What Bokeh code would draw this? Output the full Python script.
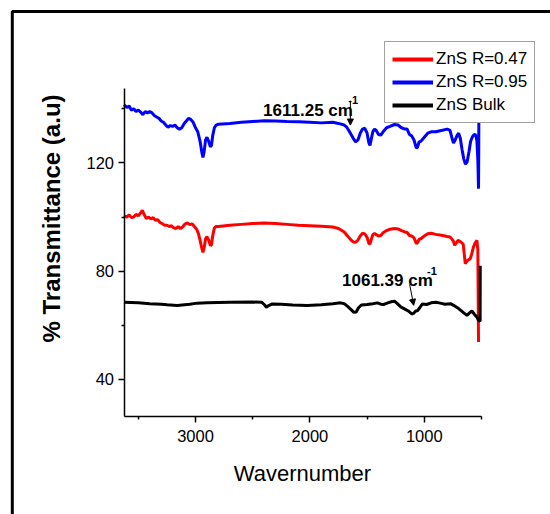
import numpy as np
from bokeh.plotting import figure
from bokeh.models import (Range1d, FixedTicker, Label, Arrow, NormalHead,
                          Legend, LegendItem, BoxAnnotation, LinearAxis)
from bokeh.embed import file_html
from bokeh.resources import INLINE

# ---------------- data ----------------
blue_x = [3625, 3600, 3580, 3560, 3540, 3520, 3500, 3480, 3460, 3440, 3420, 3400, 3380, 3360,
          3340, 3320, 3300, 3280, 3260, 3240, 3220, 3200, 3180, 3160, 3140, 3120, 3100, 3080,
          3060, 3040, 3020, 3000, 2980, 2960, 2945, 2935, 2925, 2912, 2900, 2885, 2870, 2860,
          2850, 2835, 2820, 2800, 2700, 2600, 2500, 2400, 2300, 2200, 2100, 2000, 1900, 1800,
          1750, 1700, 1680, 1660, 1640, 1620, 1600, 1580, 1560, 1540, 1520, 1500, 1485, 1475,
          1465, 1450, 1435, 1420, 1400, 1380, 1360, 1330, 1300, 1260, 1230, 1200, 1170, 1150,
          1130, 1110, 1090, 1070, 1060, 1045, 1030, 1000, 970, 940, 900, 850, 800, 775, 760,
          745, 730, 715, 700, 685, 670, 655, 640, 625, 610, 595, 580, 565, 550, 540, 532,
          526, 524, 522]
blue_y = [141.5, 140.5, 141.0, 139.5, 140.0, 139.0, 139.5, 138.8, 137.8, 139.0, 138.5, 139.0, 138.5, 137.5,
          137.0, 136.5, 135.5, 135.0, 134.0, 133.2, 133.8, 133.5, 134.0, 133.0, 132.5, 133.0, 134.5, 135.5,
          136.5, 136.0, 135.0, 133.0, 131.5, 128.0, 124.0, 122.0, 124.0, 128.5, 129.5, 128.0, 126.0, 126.5,
          130.0, 133.0, 134.0, 134.3, 134.6, 135.0, 135.3, 135.6, 135.5, 135.3, 135.2, 135.0, 134.8, 135.0,
          134.6, 134.0, 133.3, 132.0, 130.5, 129.0, 127.8, 128.5, 131.0, 132.5, 132.8, 131.0, 127.5, 126.5,
          128.5, 131.5, 132.5, 132.0, 130.5, 130.3, 131.5, 133.0, 133.5, 134.2, 134.0, 133.0, 132.5, 132.5,
          130.5, 130.0, 128.5, 125.5, 125.8, 127.8, 128.0, 129.5, 131.0, 131.5, 131.5, 132.0, 132.5, 132.0, 129.5,
          127.3, 128.5, 130.0, 131.0, 129.0, 125.0, 121.5, 119.5, 120.5, 124.0, 128.0, 129.6, 130.5, 130.3, 128.0, 121.0,
          110.5, 125.0, 150.0]

red_x = [3625, 3600, 3580, 3560, 3540, 3520, 3500, 3480, 3465, 3450, 3430, 3410, 3390, 3370,
         3350, 3330, 3310, 3290, 3270, 3250, 3230, 3210, 3190, 3170, 3150, 3130, 3110, 3090,
         3070, 3050, 3030, 3010, 2990, 2975, 2960, 2945, 2935, 2925, 2912, 2900, 2885, 2870,
         2860, 2850, 2835, 2820, 2800, 2700, 2600, 2500, 2400, 2300, 2200, 2100, 2000, 1900,
         1800, 1750, 1700, 1680, 1660, 1640, 1620, 1600, 1580, 1560, 1540, 1520, 1500, 1485,
         1475, 1465, 1450, 1435, 1420, 1400, 1380, 1360, 1330, 1300, 1260, 1230, 1200, 1170,
         1150, 1130, 1110, 1090, 1070, 1060, 1045, 1030, 1000, 970, 940, 900, 850, 800, 775,
         760, 745, 735, 720, 705, 680, 660, 650, 642, 630, 615, 598, 585, 570, 555, 540, 532,
         526]
red_y = [100.5, 100.0, 100.8, 99.8, 100.0, 101.0, 100.5, 101.5, 102.5, 101.0, 99.5, 100.0, 99.3, 99.8,
         98.8, 99.0, 98.0, 97.5, 97.0, 97.0, 96.5, 96.8, 96.0, 95.8, 96.5, 95.7, 96.5, 97.5,
         97.8, 97.2, 97.5, 96.5, 95.5, 94.0, 91.5, 88.5, 87.0, 88.5, 92.0, 92.8, 91.5, 89.5,
         89.8, 93.0, 96.0, 96.5, 96.5, 97.0, 97.3, 97.6, 97.8, 97.6, 97.3, 97.0, 96.8, 96.6,
         96.3, 95.8, 94.5, 93.5, 92.5, 91.5, 90.8, 90.7, 91.5, 93.0, 94.0, 93.8, 92.5, 90.3,
         90.0, 91.5, 93.5, 94.0, 93.5, 93.0, 93.2, 94.2, 95.0, 95.5, 95.8, 95.6, 95.0, 94.5,
         94.3, 93.2, 93.0, 92.3, 90.3, 90.5, 91.8, 92.0, 93.0, 93.8, 94.0, 93.6, 93.3, 92.8, 92.6,
         92.0, 91.0, 89.6, 90.5, 91.4, 90.8, 90.0, 86.0, 82.8, 83.5, 84.2, 84.6, 86.5, 89.0, 90.5, 91.4, 88.0,
         53.8]

black_x = [3625, 3500, 3400, 3300, 3248, 3160, 3050, 2985, 2900, 2700, 2500, 2420, 2395, 2380,
           2360, 2330, 2250, 2150, 2023, 1900, 1800, 1732, 1700, 1670, 1640, 1615, 1595, 1575,
           1550, 1500, 1450, 1411, 1380, 1352, 1320, 1280, 1260, 1240, 1206, 1170, 1140, 1110,
           1095, 1075, 1060, 1040, 1017, 980, 940, 900, 860, 820, 771, 744, 700, 660, 627, 605,
           584, 560, 540, 526, 512, 511]
black_y = [68.5, 68.3, 68.0, 67.8, 67.6, 67.3, 67.8, 68.2, 68.3, 68.5, 68.6, 68.5, 67.5, 66.7,
           67.3, 67.9, 67.8, 67.5, 67.3, 67.6, 68.0, 68.3, 68.0, 67.0, 65.8, 64.8, 64.9, 66.5,
           67.5, 67.7, 68.0, 68.3, 67.8, 67.7, 68.3, 68.8, 68.9, 68.2, 66.8, 66.0, 65.3, 64.2,
           64.4, 65.3, 65.4, 66.5, 67.9, 67.7, 68.3, 68.5, 68.2, 67.8, 68.0, 67.4, 66.2, 64.8, 63.7, 64.6,
           65.3, 64.0, 63.0, 61.8, 61.5, 82.0]

series_labels = ["ZnS R=0.47", "ZnS R=0.95", "ZnS Bulk"]
x_major = [1000, 2000, 3000]
x_minor = [500, 1500, 2500, 3500]
y_major = [40, 80, 120]
y_minor = [60, 100, 140]
X_START, X_END = 3625, 500      # plotted wavenumber span (reversed axis)
Y_START, Y_END = 26.5, 147.5    # plotted transmittance span

# ---------------- layout geometry (pixels) ----------------
W, H = 550, 514
PL, PR, PT, PB = 123.5, 481.0, 88.0, 415.5   # plot-area edges on the canvas
sx = (X_START - X_END) / (PR - PL)           # data units per px
sy = (Y_END - Y_START) / (PB - PT)
xr = Range1d(X_START + PL * sx, X_END - (W - PR) * sx)
yr = Range1d(Y_START - (H - PB) * sy, Y_END + PT * sy)

def px2x(px):
    return X_START + (PL - px) * sx

def px2y(py):
    return Y_END + (PT - py) * sy

FONT = "Liberation Sans"

p = figure(width=W, height=H, output_backend="svg", toolbar_location=None,
           x_range=xr, y_range=yr, x_axis_type=None, y_axis_type=None,
           min_border=0)
p.grid.visible = False
p.outline_line_color = None
p.background_fill_color = "white"
p.border_fill_color = "white"

rb = p.line(blue_x, blue_y, line_color="#0000ff", line_width=3)
rr = p.line(red_x, red_y, line_color="#ff0000", line_width=3)
rk = p.line(black_x, black_y, line_color="black", line_width=3)

# legend sample lines (single point -> nothing drawn in the plot itself)
lr = p.line([X_START], [Y_END], line_color="#ff0000", line_width=4)
lb = p.line([X_START], [Y_END], line_color="#0000ff", line_width=4)
lk = p.line([X_START], [Y_END], line_color="black", line_width=4)

xaxis = LinearAxis(fixed_location=Y_START, bounds=(X_END, X_START),
                   ticker=FixedTicker(ticks=x_major, minor_ticks=x_minor))
yaxis = LinearAxis(fixed_location=X_START, bounds=(Y_START, Y_END),
                   ticker=FixedTicker(ticks=y_major, minor_ticks=y_minor))
for ax in (xaxis, yaxis):
    ax.axis_line_width = 1.5
    ax.axis_line_color = "black"
    ax.major_tick_line_width = 1.5
    ax.minor_tick_line_width = 1.5
    ax.major_tick_in = 0
    ax.major_tick_out = 6
    ax.minor_tick_in = 0
    ax.minor_tick_out = 3
    ax.major_label_text_font = FONT
    ax.major_label_text_font_size = "16.5px"
    ax.major_label_text_color = "black"
xaxis.major_label_standoff = 8
yaxis.major_label_standoff = 4
p.add_layout(xaxis, "below")
p.add_layout(yaxis, "left")

# axis titles
p.add_layout(Label(x=px2x(302), y=px2y(473), text="Wavernumber", text_align="center",
                   text_baseline="middle", text_font=FONT, text_font_size="22px",
                   text_color="black"))
p.add_layout(Label(x=px2x(51), y=px2y(218), text="% Transmittance (a.u)", angle=np.pi / 2,
                   text_align="center", text_baseline="middle", text_font=FONT,
                   text_font_size="24px", text_font_style="bold", text_color="black"))

# peak annotations
p.add_layout(Label(x=2409, y=139.5, text="1611.25 cm", text_font=FONT, text_font_size="17px",
                   text_font_style="bold", text_baseline="alphabetic", text_color="black"))
p.add_layout(Label(x=1664, y=143.2, text="-1", text_font=FONT, text_font_size="11px",
                   text_font_style="bold", text_baseline="alphabetic", text_color="black"))
p.add_layout(Arrow(x_start=1646, y_start=143.0, x_end=1646, y_end=134.0, line_width=1,
                   end=NormalHead(size=6, fill_color="black", line_color="black")))

p.add_layout(Label(x=1719, y=76.4, text="1061.39 cm", text_font=FONT, text_font_size="17px",
                   text_font_style="bold", text_baseline="alphabetic", text_color="black"))
p.add_layout(Label(x=976, y=80.2, text="-1", text_font=FONT, text_font_size="11px",
                   text_font_style="bold", text_baseline="alphabetic", text_color="black"))
p.add_layout(Arrow(x_start=1128, y_start=75.1, x_end=1093, y_end=67.4, line_width=1,
                   end=NormalHead(size=6, fill_color="black", line_color="black")))

legend = Legend(items=[LegendItem(label=series_labels[0], renderers=[lr]),
                       LegendItem(label=series_labels[1], renderers=[lb]),
                       LegendItem(label=series_labels[2], renderers=[lk])],
                location=(384, H - 123), glyph_width=41, glyph_height=20, label_height=20,
                spacing=3, padding=7, margin=0, label_standoff=3,
                label_text_font=FONT, label_text_font_size="17px", label_text_color="black",
                border_line_color="#444444", border_line_width=1,
                background_fill_color="white", background_fill_alpha=1.0)
p.add_layout(legend, "center")

# outer frame of the picture (left and top edges visible)
p.add_layout(BoxAnnotation(left=px2x(11.8), right=px2x(W + 40), top=px2y(11.0),
                           bottom=px2y(H + 40), fill_alpha=0, line_color="black",
                           line_alpha=1.0, line_width=3))

open("out.html", "w").write(file_html(p, INLINE))
